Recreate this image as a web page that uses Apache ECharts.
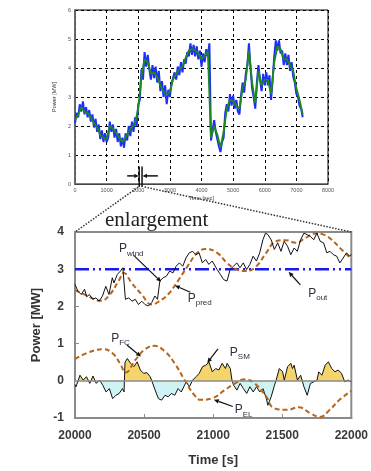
<!DOCTYPE html>
<html>
<head>
<meta charset="utf-8">
<script src="https://cdn.jsdelivr.net/npm/echarts@6/dist/echarts.min.js"></script>
<style>
  html, body { margin: 0; padding: 0; background: #fff; }
  #c { width: 371px; height: 471px; }
</style>
</head>
<body>
<div id="c"></div>
<script>
// ---- overview run, 0–7200 s ----
const overviewTicksX = [0, 1000, 2000, 3000, 4000, 5000, 6000, 7000, 8000];
const overviewTicksY = [0, 1, 2, 3, 4, 5, 6];
const greenStep = 100; // s between filtered samples
const greenPower = [2.2,2.4,2.65,2.5,2.45,2.3,2.1,1.95,1.7,1.6,
  1.55,2.0,1.9,1.75,1.6,1.45,1.6,1.8,1.95,2.1,
  2.6,3.7,4.3,4.2,3.8,3.85,3.7,3.4,3.2,3.05,
  3.2,3.6,3.8,3.95,4.05,4.35,4.6,4.65,4.6,4.5,
  4.3,4.4,4.6,1.6,2.0,1.7,1.25,1.8,2.6,2.9,
  2.85,2.7,2.6,3.3,3.6,4.6,3.5,2.8,3.9,3.4,
  3.6,3.6,3.1,4.2,4.75,4.65,4.3,4.3,4.1,3.9,
  3.3,2.9,2.4];
const blueStep = 50; // s between raw samples
const bluePower = [2.1,2.45,2.3,2.75,2.5,2.85,2.4,2.65,2.3,2.55,
  2.15,2.4,1.95,2.25,1.8,2.05,1.55,1.85,1.45,1.75,
  1.45,1.6,2.15,1.8,2.05,1.6,1.9,1.45,1.75,1.3,
  1.6,1.25,1.75,1.5,2.0,1.65,2.15,1.8,2.3,2.0,
  2.75,2.9,3.95,3.6,4.55,4.05,4.45,3.95,3.6,4.1,
  3.65,4.05,3.5,3.9,3.2,3.55,3.0,3.4,2.75,3.25,
  3.0,3.45,3.4,3.85,3.6,4.05,3.75,4.2,3.85,4.3,
  4.15,4.55,4.4,4.85,4.45,4.8,4.4,4.75,4.3,4.6,
  4.05,4.5,4.2,4.65,4.4,4.85,1.5,1.85,2.2,1.8,
  1.55,1.3,1.1,1.45,1.6,2.45,2.75,2.5,3.1,2.7,
  3.05,2.6,2.9,2.5,2.4,3.05,3.5,3.15,3.8,4.1,
  4.85,4.0,3.3,3.0,2.6,3.5,4.1,3.6,3.2,3.8,
  3.4,3.85,3.4,3.75,2.9,3.6,4.4,4.95,4.6,4.95,
  4.5,4.6,4.1,4.5,4.1,4.45,3.9,4.2,3.7,3.5,
  3.1,3.0,2.7,2.6,2.3];

// ---- enlargement, 20000–22000 s ----
const zoomTicksX = [20000, 20500, 21000, 21500, 22000];
const zoomTicksY = [-1, 0, 1, 2, 3, 4];
const windTime = [20000,20021,20045,20069,20085,20104,20128,20152,20175,20199,20223,20246,20270,20282,20306,20329,20346,20365,20389,20412,20436,20460,20483,20507,20531,20555,20578,20597,20614,20638,20661,20685,20709,20732,20756,20780,20803,20827,20851,20875,20898,20922,20946,20969,20993,21029,21052,21076,21100,21123,21147,21171,21194,21218,21242,21266,21289,21313,21337,21360,21379,21396,21420,21443,21467,21491,21514,21538,21562,21586,21609,21633,21657,21680,21704,21728,21751,21775,21799,21823,21846,21870,21894,21917,21941,21965,21988,22000];
const windPower = [2.59,2.41,2.32,2.46,2.26,2.32,2.19,2.23,2.14,2.28,2.54,2.32,2.77,2.63,2.86,2.95,3.04,2.19,2.23,2.14,2.19,2.05,2.14,2.05,2.01,2.1,2.28,2.19,2.68,2.77,2.81,2.95,2.9,3.08,3.17,3.08,3.3,3.44,3.48,3.39,3.44,3.17,3.26,3.13,3.22,2.99,2.86,2.72,2.68,2.99,3.08,3.17,3.04,3.17,2.99,3.13,3.35,3.22,3.44,3.79,3.97,3.93,3.79,3.53,3.71,3.48,3.75,3.62,3.39,3.57,3.48,3.79,3.97,3.93,3.88,3.79,3.97,3.75,3.71,3.44,3.48,3.39,3.35,3.17,3.3,3.44,3.35,3.4];
const predTime = [20000,20081,20189,20246,20318,20353,20412,20483,20555,20602,20673,20744,20815,20886,20946,21029,21100,21171,21242,21313,21384,21455,21526,21597,21668,21740,21799,21858,21929,22000];
const predPower = [2.44,2.3,2.15,2.29,2.7,2.9,2.62,2.32,2.05,2.12,2.32,2.68,3.08,3.44,3.54,3.44,3.17,2.99,2.95,3.08,3.44,3.75,3.78,3.71,3.84,3.96,3.93,3.79,3.53,3.28];
const outTime = [20000, 22000];
const outPower = [3, 3];
const smTime = [20000,20007,20036,20059,20083,20107,20130,20154,20178,20201,20225,20249,20272,20296,20320,20343,20355,20362,20379,20402,20426,20450,20473,20497,20521,20544,20556,20580,20604,20627,20651,20675,20698,20722,20746,20769,20793,20805,20828,20852,20876,20899,20923,20947,20970,20994,21018,21041,21065,21089,21101,21124,21136,21148,21172,21195,21219,21243,21266,21290,21314,21337,21361,21385,21396,21420,21444,21456,21479,21503,21515,21539,21562,21574,21586,21610,21633,21657,21681,21704,21728,21752,21764,21787,21811,21834,21858,21882,21905,21929,21953,21976,22000];
const smPower = [-0.1,-0.16,0.15,0.02,0.11,-0.07,0.13,-0.07,0.02,-0.12,-0.3,-0.21,-0.48,-0.39,-0.34,-0.21,-0.3,0.5,0.6,0.47,0.38,0.51,0.29,0.2,0.22,0.11,0,-0.25,-0.48,-0.52,-0.39,-0.43,-0.34,-0.39,-0.21,-0.3,-0.12,-0.03,-0.16,0.02,0.11,0.2,0.38,0.42,0.5,0.24,0.33,0.29,0.47,0.33,0.47,0.33,0.02,-0.12,-0.25,-0.07,-0.21,-0.34,-0.16,-0.3,-0.16,-0.3,-0.21,-0.48,-0.66,-0.43,-0.12,0.02,0.33,0.24,0.02,0.38,0.47,0.33,0.42,0.02,0.15,-0.16,-0.39,-0.07,-0.03,0.02,0.24,0.15,0.42,0.51,0.33,0.24,0.29,0.2,-0.03,0.02,-0.03];
// fuel cell (positive part) / electrolyzer (negative part) power
const fcElTime = [20000,20083,20201,20272,20331,20366,20437,20508,20574,20650,20721,20792,20863,20910,20992,21087,21158,21229,21300,21383,21442,21536,21619,21702,21773,21844,21915,22000];
const fcElPower = [0.58,0.74,0.85,0.74,0.43,0.22,0.56,0.85,0.94,0.79,0.47,0.03,-0.38,-0.51,-0.47,-0.24,-0.07,0.04,-0.07,-0.42,-0.74,-0.78,-0.71,-0.87,-0.97,-0.78,-0.51,-0.27];

const zip = (xs, ys) => xs.map((x, i) => [x, ys[i]]);
const stepped = (step, ys) => ys.map((y, i) => [i * step, y]);
const plain = v => String(v);

const BROWN = '#b5651d';
const GRID0 = { left: 75, top: 10, width: 253, height: 174 };
const GRID1 = { left: 75, top: 232, width: 282, height: 186 };
const zeroFrac = (zoomTicksY[zoomTicksY.length - 1] - 0) / (zoomTicksY[zoomTicksY.length - 1] - zoomTicksY[0]);

const smallLabel = { fontSize: 5.5, color: '#555', fontFamily: 'Liberation Sans', formatter: plain };
const bigLabel = { fontSize: 12, color: '#3a3a3a', fontWeight: 'bold', fontFamily: 'Liberation Sans', formatter: plain };

const chart = echarts.init(document.getElementById('c'));
chart.setOption({
  animation: false,
  backgroundColor: '#fff',
  grid: [
    Object.assign({ show: true, borderColor: '#000', borderWidth: 1, backgroundColor: 'transparent' }, GRID0),
    Object.assign({ show: true, borderColor: '#8a8a8a', borderWidth: 2, backgroundColor: 'transparent' }, GRID1)
  ],
  xAxis: [
    {
      gridIndex: 0, type: 'value', min: overviewTicksX[0], max: overviewTicksX[overviewTicksX.length - 1], interval: 1000,
      name: 'Time [sec]', nameLocation: 'middle', nameGap: 11,
      nameTextStyle: { fontSize: 5.5, color: '#333', fontFamily: 'Liberation Sans' },
      axisLine: { lineStyle: { color: '#444', width: 1.2 } },
      axisTick: { show: false },
      axisLabel: Object.assign({ margin: 3 }, smallLabel),
      splitLine: { show: true, lineStyle: { color: '#000', type: [3, 3], width: 1 } }
    },
    {
      gridIndex: 1, type: 'value', min: zoomTicksX[0], max: zoomTicksX[zoomTicksX.length - 1], interval: 500,
      name: 'Time [s]', nameLocation: 'middle', nameGap: 36,
      nameTextStyle: { fontSize: 13, color: '#333', fontWeight: 'bold', fontFamily: 'Liberation Sans' },
      axisLine: { onZero: false, lineStyle: { color: '#8a8a8a', width: 2 } },
      axisTick: { show: true, inside: true, length: 4, lineStyle: { color: '#8a8a8a' } },
      axisLabel: Object.assign({ margin: 12 }, bigLabel),
      splitLine: { show: false }
    }
  ],
  yAxis: [
    {
      gridIndex: 0, type: 'value', min: overviewTicksY[0], max: overviewTicksY[overviewTicksY.length - 1], interval: 1,
      name: 'Power [MW]', nameLocation: 'middle', nameGap: 8,
      nameTextStyle: { fontSize: 5.5, color: '#333', fontFamily: 'Liberation Sans' },
      axisLine: { lineStyle: { color: '#666', width: 1.8 } },
      axisTick: { show: false },
      axisLabel: Object.assign({ margin: 4 }, smallLabel),
      splitLine: { show: true, lineStyle: { color: '#000', type: [3, 3], width: 1 } }
    },
    {
      gridIndex: 1, type: 'value', min: zoomTicksY[0], max: zoomTicksY[zoomTicksY.length - 1], interval: 1,
      name: 'Power [MW]', nameLocation: 'middle', nameGap: 32,
      nameTextStyle: { fontSize: 13, color: '#333', fontWeight: 'bold', fontFamily: 'Liberation Sans' },
      axisLine: { onZero: false, lineStyle: { color: '#8a8a8a', width: 2 } },
      axisTick: { show: true, inside: true, length: 4, lineStyle: { color: '#8a8a8a' } },
      axisLabel: Object.assign({ margin: 11 }, bigLabel),
      splitLine: { show: false }
    }
  ],
  series: [
    {
      name: 'raw', type: 'line', xAxisIndex: 0, yAxisIndex: 0,
      data: stepped(blueStep, bluePower), showSymbol: false,
      lineStyle: { color: '#1f2bff', width: 2 }, z: 2
    },
    {
      name: 'filtered', type: 'line', xAxisIndex: 0, yAxisIndex: 0,
      data: stepped(greenStep, greenPower), showSymbol: false,
      lineStyle: { color: '#1d8a1d', width: 1.9 }, z: 3
    },
    {
      name: 'P_SM', type: 'line', xAxisIndex: 1, yAxisIndex: 1,
      data: zip(smTime, smPower), showSymbol: false,
      lineStyle: { color: '#111', width: 1 },
      areaStyle: {
        origin: 0, opacity: 1,
        color: {
          type: 'linear', global: true,
          x: 0, y: GRID1.top, x2: 0, y2: GRID1.top + GRID1.height,
          colorStops: [
            { offset: 0, color: '#f6d46c' }, { offset: zeroFrac, color: '#f6d46c' },
            { offset: zeroFrac, color: '#cff2f4' }, { offset: 1, color: '#cff2f4' }
          ]
        }
      },
      markLine: {
        silent: true, symbol: 'none', label: { show: false },
        lineStyle: { color: '#8a8a8a', type: 'solid', width: 1.5 },
        data: [{ yAxis: 0 }]
      },
      z: 3
    },
    {
      name: 'P_FC / P_EL', type: 'line', xAxisIndex: 1, yAxisIndex: 1,
      data: zip(fcElTime, fcElPower), showSymbol: false, smooth: 0.45,
      lineStyle: { color: BROWN, width: 2, type: [5, 3] }, z: 4
    },
    {
      name: 'P_out', type: 'line', xAxisIndex: 1, yAxisIndex: 1,
      data: zip(outTime, outPower), showSymbol: false,
      lineStyle: { color: '#1a1af0', width: 2.5, type: [14, 4, 2, 4, 2, 4] }, z: 3
    },
    {
      name: 'P_pred', type: 'line', xAxisIndex: 1, yAxisIndex: 1,
      data: zip(predTime, predPower), showSymbol: false, smooth: 0.45,
      lineStyle: { color: BROWN, width: 2, type: [5, 3] }, z: 4
    },
    {
      name: 'P_wind', type: 'line', xAxisIndex: 1, yAxisIndex: 1,
      data: zip(windTime, windPower), showSymbol: false,
      lineStyle: { color: '#111', width: 1 }, z: 5
    }
  ]
});

// ---- annotations ----
const toPx = (g, p) => chart.convertToPixel({ gridIndex: g }, p);
const INK = '#111';
const LABEL = '#2f2f3f';

function arrow(a, b, head, width) {
  const dx = b[0] - a[0], dy = b[1] - a[1];
  const len = Math.hypot(dx, dy), ux = dx / len, uy = dy / len;
  const base = [b[0] - ux * head, b[1] - uy * head];
  const w = head * 0.45;
  return [
    { type: 'line', silent: true, z: 20,
      shape: { x1: a[0], y1: a[1], x2: base[0], y2: base[1] },
      style: { stroke: INK, lineWidth: width || 1.2 } },
    { type: 'polygon', silent: true, z: 20,
      shape: { points: [b, [base[0] - uy * w, base[1] + ux * w], [base[0] + uy * w, base[1] - ux * w]] },
      style: { fill: INK } }
  ];
}

function subLabel(p, main, sub) {
  return [
    { type: 'text', silent: true, z: 20, x: p[0], y: p[1],
      style: { text: main, fontSize: 12, fontFamily: 'Liberation Sans', fill: LABEL, verticalAlign: 'middle' } },
    { type: 'text', silent: true, z: 20, x: p[0] + 8, y: p[1] + 4.5,
      style: { text: sub, fontSize: 8, fontFamily: 'Liberation Sans', fill: LABEL, verticalAlign: 'middle' } }
  ];
}

const notes = [
  { text: [20319, 3.54], sub: 'wind', from: [20425, 3.37], to: [20624, 2.66] },
  { text: [20816, 2.21], sub: 'pred', from: [20835, 2.38], to: [20723, 2.56] },
  { text: [21688, 2.34], sub: 'out',  from: [21631, 2.58], to: [21546, 2.93] },
  { text: [20262, 1.13], sub: 'FC',   from: [20376, 0.96], to: [20478, 0.65] },
  { text: [21121, 0.76], sub: 'SM',   from: [21035, 0.86], to: [20957, 0.48] },
  { text: [21156, -0.78], sub: 'EL',  from: [21142, -0.69], to: [21005, -0.51] }
];

const els = [];
notes.forEach(n => {
  els.push(...subLabel(toPx(1, n.text), 'P', n.sub));
  els.push(...arrow(toPx(1, n.from), toPx(1, n.to), 5, 1.2));
});

// zoom window markers on the overview run
[2030, 2120].forEach(t => {
  const a = toPx(0, [t, 0.6]), b = toPx(0, [t, -0.1]);
  els.push({ type: 'line', silent: true, z: 20, shape: { x1: a[0], y1: a[1], x2: b[0], y2: b[1] },
    style: { stroke: INK, lineWidth: 1.5 } });
});
els.push(...arrow(toPx(0, [1650, 0.28]), toPx(0, [2015, 0.28]), 4.5, 1.5));
els.push(...arrow(toPx(0, [2620, 0.28]), toPx(0, [2135, 0.28]), 4.5, 1.5));

// dotted guides from the marked window to the enlargement frame
const l0 = toPx(0, [2000, 0]), r0 = toPx(0, [2200, 0]);
const l1 = toPx(1, [zoomTicksX[0], 4]), r1 = toPx(1, [zoomTicksX[zoomTicksX.length - 1], 4]);
els.push({ type: 'line', silent: true, z: 20, shape: { x1: l0[0], y1: l0[1] + 3, x2: l1[0], y2: l1[1] },
  style: { stroke: '#333', lineWidth: 1.5, lineDash: [1.5, 1.5] } });
els.push({ type: 'line', silent: true, z: 20, shape: { x1: r0[0], y1: r0[1] + 3, x2: r1[0], y2: r1[1] },
  style: { stroke: '#333', lineWidth: 1.5, lineDash: [1.5, 1.5] } });

els.push({ type: 'text', silent: true, z: 20, x: 105, y: 220,
  style: { text: 'enlargement', fontSize: 21, fontFamily: 'Liberation Serif', fill: '#222', verticalAlign: 'middle' } });

chart.setOption({ graphic: { elements: els } });
</script>
</body>
</html>
